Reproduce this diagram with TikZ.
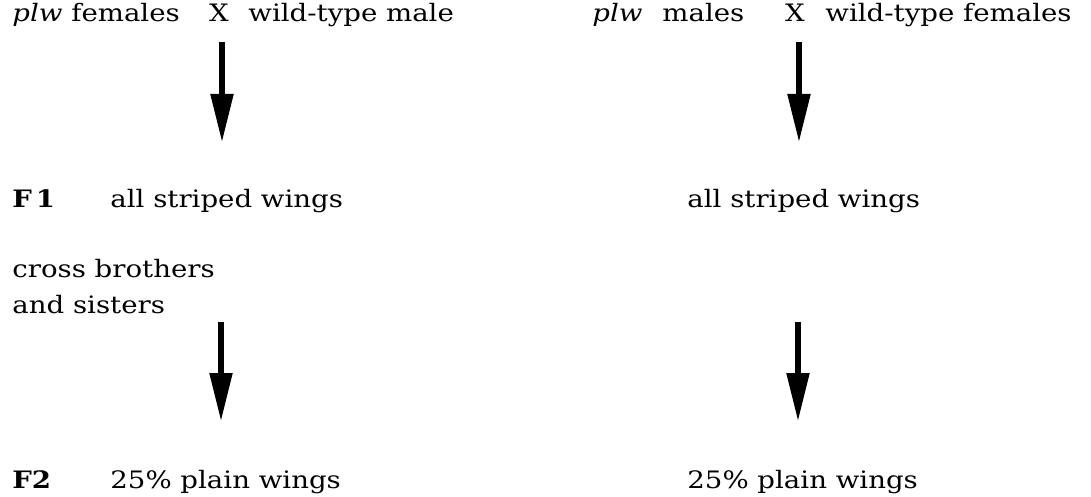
\documentclass[tikz,border=0pt]{standalone}
\usepackage{fontspec}
\setmainfont{DejaVu Serif}[FakeStretch=1.15]
\usetikzlibrary{arrows.meta}

\tikzset{
  lbl/.style={anchor=base west, inner sep=0pt, font=\fontsize{12}{14}\selectfont},
  cross/.style={anchor=base, inner sep=0pt, font=\fontsize{12}{14}\selectfont},
  gen/.style={lbl, font=\fontsize{12}{14}\selectfont\bfseries},
  bigarrow/.style={line width=2.6pt, -{Triangle[length=24pt, width=11pt]}},
}

\begin{document}
\begin{tikzpicture}[x=0.5pt, y=-0.5pt]
  \useasboundingbox (0,0) rectangle (1091,497);

  % parental crosses
  \node[lbl]   (pf)  at (12,22)  {\textit{plw} females};
  \node[cross] (xl)  at (219,22) {X};
  \node[lbl]   (wm)  at (248,22) {wild-type male};
  \node[lbl]   (pm)  at (592,22) {\textit{plw}};
  \node[lbl]   (ms)  at (662,22) {males};
  \node[cross] (xr)  at (795,22) {X};
  \node[lbl]   (wf)  at (825,22) {wild-type females};

  % F1
  \node[gen] (f1)  at (12,207)  {F\,1};
  \node[lbl] (s1l) at (110,207) {all striped wings};
  \node[lbl] (s1r) at (687,207) {all striped wings};

  \node[lbl] (cb) at (12,278) {cross brothers};
  \node[lbl] (as) at (12,313) {and sisters};

  % F2
  \node[gen] (f2)  at (12,488)  {F2};
  \node[lbl] (p2l) at (110,488) {25\% plain wings};
  \node[lbl] (p2r) at (687,488) {25\% plain wings};

  % arrow ends
  \coordinate (a1) at (222,42);  \coordinate (b1) at (222,142);
  \coordinate (a2) at (799,42);  \coordinate (b2) at (799,142);
  \coordinate (a3) at (221,322); \coordinate (b3) at (221,421);
  \coordinate (a4) at (798,322); \coordinate (b4) at (798,421);

  \foreach \i in {1,...,4}
    \draw[bigarrow] (a\i) -- (b\i);
\end{tikzpicture}
\end{document}
